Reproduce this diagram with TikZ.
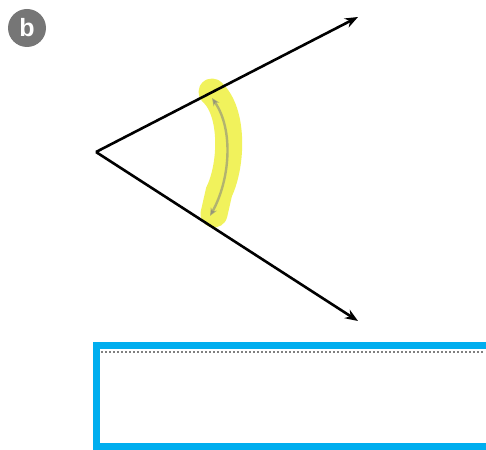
\documentclass[tikz,border=0pt]{standalone}
\usepackage{fontspec}
\setmainfont{Liberation Sans}
\usetikzlibrary{arrows.meta}
\definecolor{badgegray}{HTML}{767676}
\definecolor{hlyellow}{HTML}{EEF040}
\definecolor{boxblue}{HTML}{00AEEF}
\tikzset{
  ray/.style={line width=2.6pt, -{Stealth[length=13pt,width=10pt]}},
  highlight/.style={line width=27pt, hlyellow, opacity=0.85, line cap=round},
  anglearrow/.style={line width=2.4pt, gray, opacity=0.55, {Stealth[length=8pt,width=7pt]}-{Stealth[length=8pt,width=7pt]}},
  answerbox/.style={line width=7pt, boxblue},
  badge/.style={circle, fill=badgegray, minimum size=38pt, inner sep=0pt, text=white, font=\bfseries\fontsize{25}{25}\selectfont}
}
\begin{document}
\begin{tikzpicture}[x=1pt,y=-1pt]
\useasboundingbox (0,0) rectangle (486,449);
\clip (0,0) rectangle (486,449);
\node[badge] (b) at (27,28) {b};
\coordinate (v) at (96,152);
\coordinate (t1) at (358,17);
\coordinate (t2) at (358,321);
% highlight
\draw[highlight] (212,92) .. controls (234,112) and (232,165) .. (219,192) -- (214,214);
\draw[anglearrow] (212,98) .. controls (234,130) and (230,180) .. (210,216);
% rays
\draw[ray] (v) -- (t1);
\draw[ray] (v) -- (t2);
% answer box
\coordinate (bx1) at (96,345);
\coordinate (bx2) at (492,446);
\draw[answerbox] (bx1) rectangle (bx2);
\draw[gray, line width=1.3pt, dash pattern=on 1.5pt off 2.5pt] (101,352) -- (484,352);
\end{tikzpicture}
\end{document}
